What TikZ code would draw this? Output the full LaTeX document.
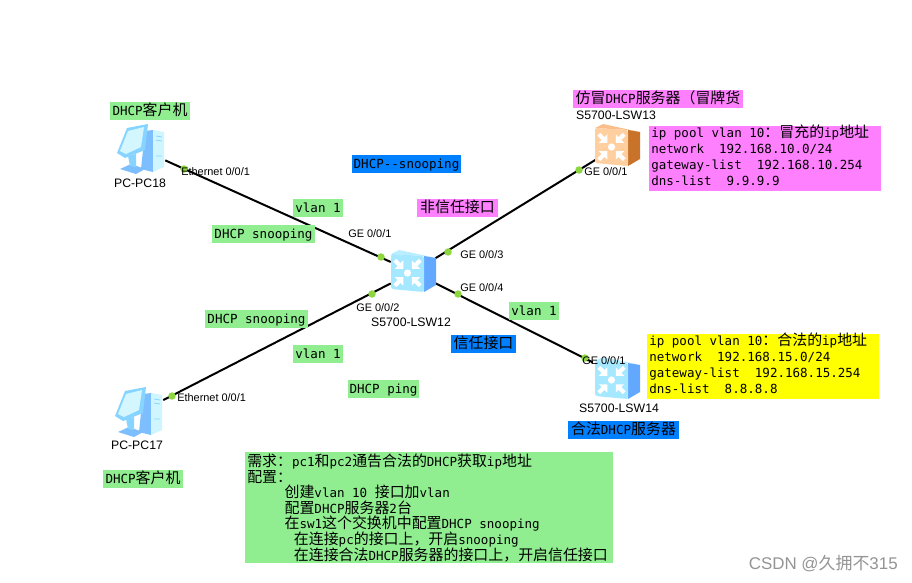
\documentclass[tikz,border=0pt]{standalone}
\usepackage{fontspec}
\setmainfont[Ligatures=NoCommon]{DejaVu Sans Mono}
\newfontfamily\cjf{Noto Sans CJK SC}
\newfontfamily\arf{Liberation Sans}
\newcommand{\cj}[1]{{\cjf\fontsize{11.2pt}{11.7pt}\selectfont #1}}
\newcommand{\ms}{\hspace*{5.66pt}}
\newcommand{\fwcolon}{\char"FF1A }
\newcommand{\fwcomma}{\char"FF0C }
\newcommand{\fwparen}{\char"FF08 }
\definecolor{lgreen}{HTML}{90EE90}
\definecolor{lpink}{HTML}{FF80FF}
\definecolor{lblue}{HTML}{0080FF}
\definecolor{lyellow}{HTML}{FFFF00}
\definecolor{portg}{HTML}{8ED63F}
\definecolor{bfront}{HTML}{A6E8FF}
\definecolor{btop}{HTML}{B8EEFF}
\definecolor{bside}{HTML}{62A8FF}
\definecolor{ofront}{HTML}{FFCFA0}
\definecolor{otop}{HTML}{F9BE8A}
\definecolor{oside}{HTML}{C9732A}
\definecolor{pcframe}{HTML}{86D4FF}
\definecolor{pcscreen}{HTML}{D4F6FF}
\definecolor{pcblue}{HTML}{7DBEFF}
\definecolor{pcface}{HTML}{CFF6FF}
\tikzset{
  lab/.style n args={3}{fill=#1,inner sep=0pt,minimum width=#2*0.75pt,minimum height=#3*0.75pt,
    text height=9.7pt,text depth=3.4pt,font=\fontsize{9.4pt}{11.7pt}\selectfont,text=black},
  multi/.style n args={3}{fill=#1,inner sep=0pt,anchor=north west,minimum height=#3*0.75pt,
    text width=#2*0.75pt,align=left,font=\fontsize{9.4pt}{11.7pt}\selectfont,text=black,
    execute at begin node={\spaceskip=5.66pt\xspaceskip=5.66pt}},
  configbox/.style={font=\fontsize{9.4pt}{12pt}\selectfont},
  dev/.style={inner sep=0pt,minimum width=44*0.75pt,minimum height=44*0.75pt},
  pcdev/.style={inner sep=0pt,minimum width=50*0.75pt,minimum height=44*0.75pt},
  link/.style={line width=1.5pt,black},
  portdot/.style={circle,fill=portg,inner sep=0pt,minimum size=5.6pt},
  plab/.style={inner sep=0pt,font=\arf\fontsize{8.2pt}{9pt}\selectfont},
  nlab/.style={inner sep=0pt,font=\arf\fontsize{9.2pt}{10pt}\selectfont},
  pics/swicon/.style n args={3}{code={
    \fill[#2] (-23,-18) -- (-15,-22) -- (22,-14) -- (10,-16) -- cycle;
    \fill[#3] (10,-16) -- (22,-14) -- (22,13) -- (10,20) -- cycle;
    \fill[#1,rounded corners=1.5pt] (-23,-18) -- (10,-16) -- (10,20) -- (-23,17) -- cycle;
    \foreach \a in {45,135,225,315}{
      \begin{scope}[shift={(-6.5,1)},rotate=\a]
        \fill[white] (6,0) -- (12,-6) -- (12,-2) -- (18,-2) -- (18,2) -- (12,2) -- (12,6) -- cycle;
      \end{scope}
    }
    \fill[white] (-6.5,1) circle (3.6);
  }},
  pics/pcicon/.style={code={
    % tower
    \fill[pcblue] (6,-19) -- (14,-20) -- (14,22) -- (2,19) -- cycle;
    \fill[pcface] (14,-20) -- (25,-18) -- (25,17) -- (14,22) -- cycle;
    \draw[pcframe,line width=.6pt] (17,-14) -- (23,-13) (17,-10) -- (23,-9) (17,6) -- (23,6);
    % base
    \fill[pcblue] (-19,19) -- (-8,14) -- (6,19) -- (-3,24) -- cycle;
    \fill[pcframe] (-11,6) -- (-3,4) -- (-3,17) -- (-9,16) -- cycle;
    % monitor
    \fill[pcframe] (-22,3) -- (-12,-22) -- (9,-26) -- (6,0) -- (-14,8) -- cycle;
    \fill[pcscreen] (-19,1) -- (-11,-19) -- (5,-23) -- (2,-3) -- (-13,4) -- cycle;
  }}
}
\begin{document}
\begin{tikzpicture}[x=0.75pt,y=-0.75pt]
\useasboundingbox (0,0) rectangle (912,582);
\fill[white] (0,0) rectangle (912,582);

% devices
\node[pcdev] (pc18) at (140,149) {};
\node[pcdev] (pc17) at (138,413) {};
\node[dev]   (sw12) at (413,272) {};
\node[dev]   (sw13) at (618,146) {};
\node[pcdev] (sw14) at (618,375) {};

% links
\draw[link] (pc18) -- (sw12);
\draw[link] (pc17) -- (sw12);
\draw[link] (sw13) -- (sw12);
\draw[link] (sw14) -- (sw12);

% icons
\pic at (139,150) {pcicon};
\pic at (137,413) {pcicon};
\pic at (414,272) {swicon={bfront}{btop}{bside}};
\pic at (618,146) {swicon={ofront}{otop}{oside}};
\pic at (618,379) {swicon={bfront}{btop}{bside}};

% port dots
\node[portdot] (p1) at (184,169) {};
\node[portdot] (p2) at (381,257) {};
\node[portdot] (p3) at (372,294) {};
\node[portdot] (p4) at (448,252) {};
\node[portdot] (p5) at (458,294) {};
\node[portdot] (p6) at (579,170) {};
\node[portdot] (p7) at (585,358) {};
\node[portdot] (p8) at (172,396) {};

% port labels
\node[plab,anchor=west] (l1) at (181,172) {Ethernet 0/0/1};
\node[plab,anchor=west] (l2) at (348,234) {GE 0/0/1};
\node[plab,anchor=west] (l3) at (356,308) {GE 0/0/2};
\node[plab,anchor=west] (l4) at (460,255) {GE 0/0/3};
\node[plab,anchor=west] (l5) at (460,288) {GE 0/0/4};
\node[plab,anchor=west] (l6) at (584,172) {GE 0/0/1};
\node[plab,anchor=west] (l7) at (582,361) {GE 0/0/1};
\node[plab,anchor=west] (l8) at (177,398) {Ethernet 0/0/1};

% device names
\node[nlab] (n18) at (140,183) {PC-PC18};
\node[nlab] (n17) at (137,445) {PC-PC17};
\node[nlab] (n12) at (411,322) {S5700-LSW12};
\node[nlab] (n13) at (616,115) {S5700-LSW13};
\node[nlab] (n14) at (619,408) {S5700-LSW14};

% text boxes
\node[lab={lgreen}{80}{18}] (t1) at (150,111) {DHCP\cj{客户机}};
\node[lab={lblue}{109}{18}] (t2) at (406.5,164) {DHCP{-}{-}snooping};
\node[lab={lgreen}{50}{18}] (t3) at (318,208) {vlan 1};
\node[lab={lgreen}{103}{18}] (t4) at (263.5,234) {DHCP snooping};
\node[lab={lpink}{81}{18}] (t5) at (457.5,208) {\cj{非信任接口}};
\node[lab={lpink}{170}{18}] (t6) at (658,99) {\cj{仿冒}DHCP\cj{服务器\fwparen 冒牌货}};
\node[lab={lgreen}{50}{18}] (t7) at (534,311) {vlan 1};
\node[lab={lblue}{65}{18}] (t8) at (483.5,344) {\cj{信任接口}};
\node[lab={lgreen}{103}{18}] (t9) at (256.5,319) {DHCP snooping};
\node[lab={lgreen}{50}{18}] (t10) at (318,354) {vlan 1};
\node[lab={lgreen}{71}{18}] (t11) at (383.5,389) {DHCP ping};
\node[lab={lgreen}{80}{18}] (t12) at (143,479) {DHCP\cj{客户机}};
\node[lab={lblue}{111}{18}] (t13) at (623.5,430) {\cj{合法}DHCP\cj{服务器}};

\node[multi={lpink}{232}{65},configbox,text height=8.4pt,text depth=40.35pt] (b1) at (649,126) {\hspace*{1.5pt}ip pool vlan 10\cj{\fwcolon 冒充的}ip\cj{地址}\\
\hspace*{1.5pt}network\ms\ms 192.168.10.0/24\\
\hspace*{1.5pt}gateway-list\ms\ms 192.168.10.254\\
\hspace*{1.5pt}dns-list\ms\ms 9.9.9.9};
\node[multi={lyellow}{232}{65},configbox,text height=8.4pt,text depth=40.35pt] (b2) at (647,334) {\hspace*{1.5pt}ip pool vlan 10\cj{\fwcolon 合法的}ip\cj{地址}\\
\hspace*{1.5pt}network\ms\ms 192.168.15.0/24\\
\hspace*{1.5pt}gateway-list\ms\ms 192.168.15.254\\
\hspace*{1.5pt}dns-list\ms\ms 8.8.8.8};
\node[multi={lgreen}{368}{111}] (b3) at (245,452) {\hspace*{1.5pt}\cj{需求\fwcolon}pc1\cj{和}pc2\cj{通告合法的}DHCP\cj{获取}ip\cj{地址}\\
\hspace*{1.5pt}\cj{配置\fwcolon}\\
\hspace*{29.5pt}\cj{创建}vlan 10 \cj{接口加}vlan\\
\hspace*{29.5pt}\cj{配置}DHCP\cj{服务器}2\cj{台}\\
\hspace*{29.5pt}\cj{在}sw1\cj{这个交换机中配置}DHCP snooping\\
\hspace*{36.5pt}\cj{在连接}pc\cj{的接口上\fwcomma 开启}snooping\\
\hspace*{36.5pt}\cj{在连接合法}DHCP\cj{服务器的接口上\fwcomma 开启信任接口}};

% watermark
\node[inner sep=0pt,anchor=east,text=black!42,font=\fontsize{12.7pt}{13pt}\selectfont] (wm) at (898,564) {\arf CSDN @\cjf 久拥不\arf 315};
\end{tikzpicture}
\end{document}
